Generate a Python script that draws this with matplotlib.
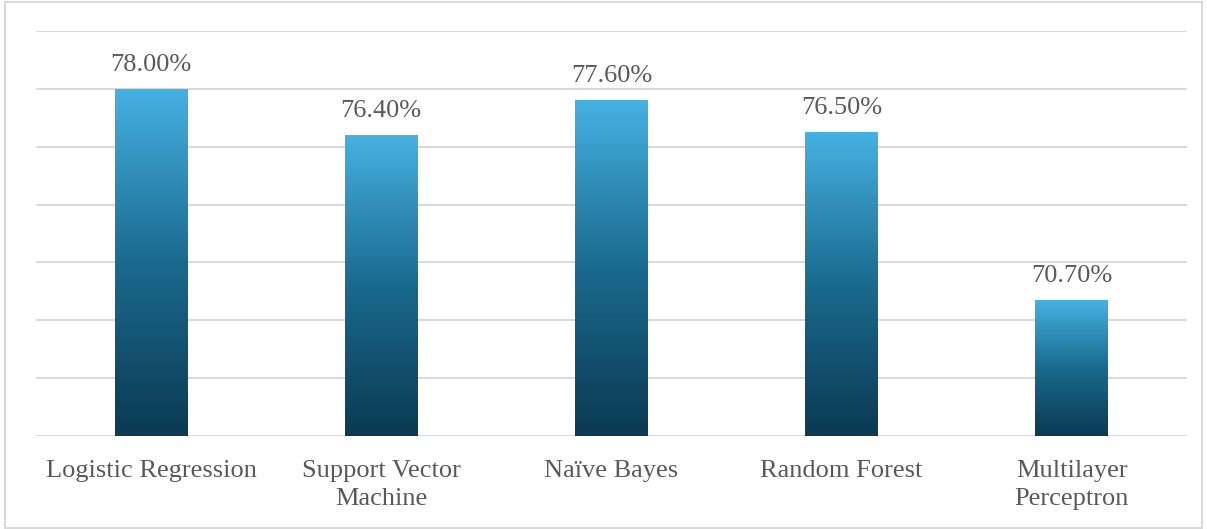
import numpy as np
import matplotlib
matplotlib.use("Agg")
import matplotlib.pyplot as plt
from matplotlib.colors import LinearSegmentedColormap
from matplotlib.patches import Rectangle

categories = ["Logistic Regression", "Support Vector\nMachine", "Naïve Bayes",
              "Random Forest", "Multilayer\nPerceptron"]
values = [78.0, 76.4, 77.6, 76.5, 70.7]
labels = ["78.00%", "76.40%", "77.60%", "76.50%", "70.70%"]

plt.rcParams['font.family'] = ['Liberation Serif', 'DejaVu Serif']

fig = plt.figure(figsize=(12.07, 5.29), dpi=100)
ax = fig.add_axes([0.0298, 0.1758, 0.9536, 0.7656])

ymin, ymax = 66, 80
cmap = LinearSegmentedColormap.from_list("g", ["#0B3A52", "#1A6A8E", "#46B1E2"])
grad = np.linspace(0, 1, 256).reshape(-1, 1)

x = np.arange(len(categories))
bars = ax.bar(x, values, width=0.317, bottom=0, color="none", zorder=3)
for b, v, lab in zip(bars, values, labels):
    x0 = b.get_x()
    w = b.get_width()
    im = ax.imshow(grad, extent=[x0, x0 + w, ymin, v], origin="lower",
                   aspect="auto", cmap=cmap, zorder=3)
    im.set_clip_path(b)
    ax.text(x0 + w / 2, v + 0.45, lab, ha="center", va="bottom",
            fontsize=19, color="#595959", zorder=4)

ax.set_xlim(-0.5, len(categories) - 0.5)
ax.set_ylim(ymin, ymax)
ax.set_yticks(np.arange(ymin, ymax + 0.1, 2))
ax.yaxis.grid(True, color="#D9D9D9", linewidth=1.5, zorder=0)
ax.set_axisbelow(True)
ax.tick_params(axis="y", left=False, labelleft=False)
ax.tick_params(axis="x", bottom=False, labelsize=19, labelcolor="#595959", pad=14)
ax.set_xticks(x)
ax.set_xticklabels(categories, linespacing=1.36)
for s in ax.spines.values():
    s.set_visible(False)

fig.patches.append(Rectangle((0.004, 0.002), 0.992, 0.994, transform=fig.transFigure,
                             fill=False, edgecolor="#D9D9D9", linewidth=1.5))

fig.savefig("out.png", dpi=100)
